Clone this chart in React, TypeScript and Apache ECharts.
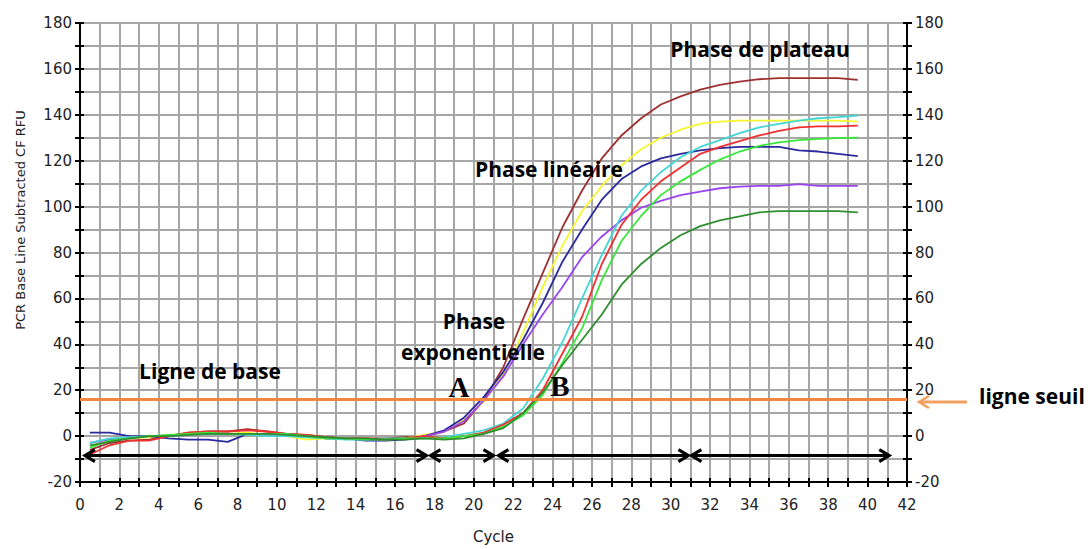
import React, { useEffect, useRef } from "react";
import * as echarts from "echarts";

// Cycle positions of the samples
const cycles = [
  0.5, 1.5, 2.5, 3.5, 4.5, 5.5, 6.5, 7.5, 8.5, 9.5, 10.5, 11.5, 12.5, 13.5, 14.5, 15.5, 16.5,
  17.5, 18.5, 19.5, 20.5, 21.5, 22.5, 23.5, 24.5, 25.5, 26.5, 27.5, 28.5, 29.5, 30.5, 31.5,
  32.5, 33.5, 34.5, 35.5, 36.5, 37.5, 38.5, 39.5,
];

const brownRFU = [
  -6, -3, -2, -1.5, 0, 1.5, 2, 2, 3, 2, 1, 0.5, -0.5, -1, -1, -1, -0.5,
  0, 2, 5.5, 15.5, 30, 51, 71, 91, 107, 121, 131, 138.5, 144.5, 148, 151, 153, 154.5, 155.5, 156, 156, 156, 156, 155.2,
];
const yellowRFU = [
  -3, -1.5, -1, -0.5, 0, 0.5, 1, 1, 1.5, 0.5, 0, -1.5, -1, -1, -1.5, -1.5, -1,
  0.5, 2, 7, 15, 27, 45, 65, 83, 98, 109, 118, 125, 130, 133.5, 136, 137, 137.5, 137.5, 137.5, 137.5, 137.5, 137.5, 137,
];
const navyRFU = [
  1.5, 1.5, 0, 0, -1, -1.5, -1.5, -2.5, 1, 1, 1, 0, -1, -1, -2, -2, -1.5,
  0, 2.5, 8, 17, 28, 42, 58, 76, 90, 103, 112, 117.5, 121, 123, 124.5, 125.5, 126, 126, 126, 124.5, 124, 123, 122,
];
const purpleRFU = [
  -3, -1.5, -1, 0, 0, 0.5, 1, 1, 1, 0.5, 0.5, 0, -1, -1, -1.5, -1.5, -1,
  0, 2, 6.5, 15.5, 26, 40, 53, 65, 78, 87, 94, 99.5, 102.5, 105, 106.5, 108, 108.7, 109, 109, 109.8, 109, 109, 109,
];
const cyanRFU = [
  -3, -1, -0.5, 0, 0, 0.5, 1, 1, 0.5, 0, 0, -0.5, -1, -1.5, -1.5, -1, -1,
  -1, -0.5, 1, 2.5, 5.5, 12, 25, 41, 60, 79, 96, 107, 115, 121.5, 126, 129, 132, 134.5, 136, 137.5, 138.5, 139, 139.7,
];
const redRFU = [
  -8, -4, -2, -2, 0, 1.5, 2, 2, 2.5, 2, 1, 0.5, -0.5, -1, -1, -1.5, -1,
  0, -1, 0, 1.5, 5, 10, 20, 36, 52, 75, 92, 103, 111, 117, 123, 126, 128.5, 131, 133, 134.5, 135, 135, 135.3,
];
const greenRFU = [
  -5, -2, -1, 0, 0.5, 1, 1.5, 1, 1, 1, 1, 0, -1, -1, -1.5, -1.5, -1,
  -1, -1, 0, 1, 4, 9, 18, 32, 47, 68, 85, 96, 105, 111, 116, 120.5, 124, 126.5, 128, 129, 129.5, 129.8, 130,
];
const darkGreenRFU = [
  -4, -2.5, -1, 0, 0, 0.5, 1, 1, 1, 1, 0.5, 0, -0.5, -1, -1, -1.5, -1.5,
  -1, -1.5, -1, 1, 3.5, 10, 19, 31, 42, 53, 66, 75, 82, 87.5, 91.5, 94, 95.7, 97.5, 98, 98, 98, 98, 97.5,
];

const thresholdRFU = 16;
const thresholdSpan = [0, 42];

// Phase arrows (start cycle, end cycle) drawn at arrowLevel RFU
const arrowStarts = [0.25, 17.8, 21.25, 31.05];
const arrowEnds = [17.6, 21.0, 30.9, 41.1];
const arrowLevel = -8.5;

const curves = [
  { name: "brown", color: "#9e3030", values: brownRFU },
  { name: "yellow", color: "#f6f62e", values: yellowRFU },
  { name: "navy", color: "#2a2a9e", values: navyRFU },
  { name: "purple", color: "#9a44ee", values: purpleRFU },
  { name: "cyan", color: "#44d6d6", values: cyanRFU },
  { name: "red", color: "#f03030", values: redRFU },
  { name: "green", color: "#38e838", values: greenRFU },
  { name: "darkgreen", color: "#2f8f2f", values: darkGreenRFU },
];

const TICK_FONT = "DejaVu Sans";
const NOTE_FONT = '"Open Sans"';

export default function App() {
  const ref = useRef<HTMLDivElement>(null);

  useEffect(() => {
    if (!ref.current) return;
    const chart = echarts.init(ref.current, undefined, { renderer: "svg" });

    const gridColor = "#a6a6a6";
    const tickLabel = (v: number, step: number) => (Math.round(v) % step === 0 ? String(Math.round(v)) : "");

    const lineSeries: any[] = curves.map((c) => ({
      name: c.name,
      type: "line",
      data: cycles.map((x, i) => [x, c.values[i]]),
      symbol: "none",
      showSymbol: false,
      lineStyle: { color: c.color, width: 1.8 },
      xAxisIndex: 0,
      yAxisIndex: 0,
      z: 3,
    }));

    const note = (text: string, x: number, y: number, align = "center") => ({
      type: "text",
      x,
      y,
      z: 20,
      style: { text, font: `bold 21px ${NOTE_FONT}`, fill: "#000", textAlign: align, textVerticalAlign: "middle" },
    });

    const option: any = {
      animation: false,
      backgroundColor: "#ffffff",
      grid: { left: 80, right: 181, top: 23, bottom: 62, containLabel: false },
      xAxis: [
        {
          type: "value",
          min: 0,
          max: 42,
          interval: 1,
          position: "bottom",
          axisLine: { show: true, onZero: false, lineStyle: { color: "#000", width: 2 } },
          axisTick: { show: true, length: 5, lineStyle: { color: "#000", width: 2 } },
          axisLabel: {
            formatter: (v: number) => tickLabel(v, 2),
            color: "#222",
            fontSize: 15,
            fontFamily: TICK_FONT,
            margin: 15,
          },
          splitLine: { show: true, lineStyle: { color: gridColor, width: 2 } },
          name: "Cycle",
          nameLocation: "middle",
          nameGap: 47,
          nameTextStyle: { color: "#222", fontSize: 15, fontFamily: TICK_FONT },
        },
        {
          type: "value",
          min: 0,
          max: 42,
          interval: 1,
          position: "bottom",
          axisLine: { show: false, onZero: false },
          axisTick: { show: true, inside: true, length: 4, lineStyle: { color: "#000", width: 2 } },
          axisLabel: { show: false },
          splitLine: { show: false },
        },
      ],
      yAxis: [
        {
          type: "value",
          min: -20,
          max: 180,
          interval: 10,
          position: "left",
          axisLine: { show: true, onZero: false, lineStyle: { color: "#000", width: 2 } },
          axisTick: { show: true, length: 5, lineStyle: { color: "#000", width: 2 } },
          axisLabel: {
            formatter: (v: number) => tickLabel(v, 20),
            color: "#222",
            fontSize: 15,
            fontFamily: TICK_FONT,
            margin: 8,
          },
          splitLine: { show: true, lineStyle: { color: gridColor, width: 2 } },
        },
        {
          type: "value",
          min: -20,
          max: 180,
          interval: 10,
          position: "right",
          axisLine: { show: true, onZero: false, lineStyle: { color: "#000", width: 2 } },
          axisTick: { show: true, length: 5, lineStyle: { color: "#000", width: 2 } },
          axisLabel: {
            formatter: (v: number) => tickLabel(v, 20),
            color: "#222",
            fontSize: 15,
            fontFamily: TICK_FONT,
            margin: 8,
          },
          splitLine: { show: false },
        },
        {
          type: "value",
          min: -20,
          max: 180,
          interval: 10,
          position: "left",
          axisLine: { show: false, onZero: false },
          axisTick: { show: true, inside: true, length: 4, lineStyle: { color: "#000", width: 2 } },
          axisLabel: { show: false },
          splitLine: { show: false },
        },
        {
          type: "value",
          min: -20,
          max: 180,
          interval: 10,
          position: "right",
          axisLine: { show: false, onZero: false },
          axisTick: { show: true, inside: true, length: 4, lineStyle: { color: "#000", width: 2 } },
          axisLabel: { show: false },
          splitLine: { show: false },
        },
      ],
      series: [
        ...lineSeries,
        {
          name: "threshold",
          type: "line",
          data: thresholdSpan.map((x) => [x, thresholdRFU]),
          symbol: "none",
          lineStyle: { color: "#f5873c", width: 3 },
          z: 4,
        },
        {
          name: "phases",
          type: "custom",
          coordinateSystem: "cartesian2d",
          data: arrowStarts.map((s, i) => [s, arrowEnds[i], arrowLevel]),
          encode: { x: [0, 1], y: 2 },
          clip: false,
          z: 5,
          renderItem: (_params: any, api: any) => {
            const a = api.coord([api.value(0), api.value(2)]);
            const b = api.coord([api.value(1), api.value(2)]);
            const h = 10;
            const w = 6;
            const st = { stroke: "#000", lineWidth: 3, fill: null, lineJoin: "miter" };
            return {
              type: "group",
              children: [
                { type: "line", shape: { x1: a[0] + 1, y1: a[1], x2: b[0] - 1, y2: b[1] }, style: st },
                {
                  type: "polyline",
                  shape: { points: [[a[0] + h, a[1] - w], [a[0], a[1]], [a[0] + h, a[1] + w]] },
                  style: st,
                },
                {
                  type: "polyline",
                  shape: { points: [[b[0] - h, b[1] - w], [b[0], b[1]], [b[0] - h, b[1] + w]] },
                  style: st,
                },
              ],
            };
          },
        },
      ],
      graphic: [
        {
          type: "text",
          x: 20,
          y: 220,
          rotation: Math.PI / 2,
          style: {
            text: "PCR Base Line Subtracted CF RFU",
            font: `13px "${TICK_FONT}"`,
            fill: "#222",
            textAlign: "center",
            textVerticalAlign: "middle",
          },
        },
        note("Phase de plateau", 760, 49),
        note("Phase linéaire", 549, 169),
        note("Phase", 474, 321),
        note("exponentielle", 473, 352),
        note("Ligne de base", 210, 371),
        note("ligne seuil", 979, 396, "left"),
        {
          type: "text",
          x: 459,
          y: 387,
          z: 20,
          style: { text: "A", font: `bold 29px "Liberation Serif"`, fill: "#000", textAlign: "center", textVerticalAlign: "middle" },
        },
        {
          type: "text",
          x: 560,
          y: 386,
          z: 20,
          style: { text: "B", font: `bold 29px "Liberation Serif"`, fill: "#000", textAlign: "center", textVerticalAlign: "middle" },
        },
        {
          type: "line",
          shape: { x1: 967, y1: 402, x2: 920, y2: 402 },
          style: { stroke: "#f0a060", lineWidth: 3 },
        },
        {
          type: "polyline",
          shape: { points: [[929, 396], [919, 402], [929, 408]] },
          style: { stroke: "#f0a060", lineWidth: 2.5, fill: null },
        },
      ],
    };

    chart.setOption(option);
    return () => chart.dispose();
  }, []);

  return (
    <div
      ref={ref}
      style={{ position: "absolute", left: 0, top: 0, width: 1088, height: 549, background: "#fff" }}
    />
  );
}
